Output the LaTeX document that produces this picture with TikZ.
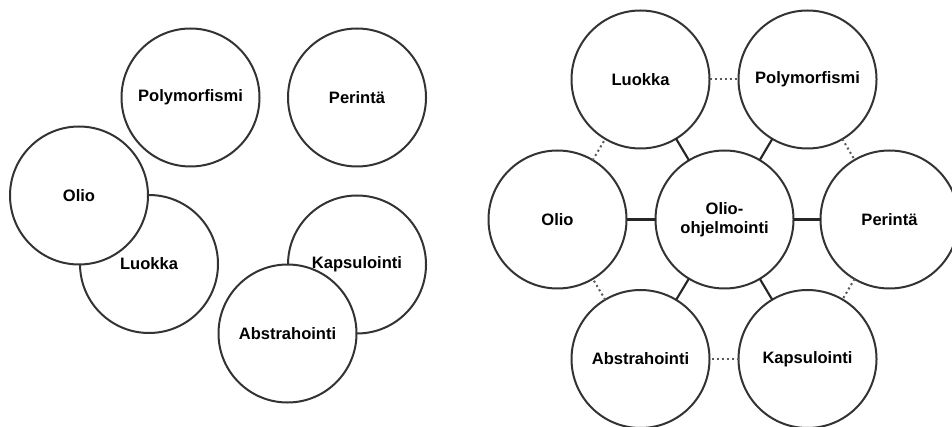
\documentclass[tikz,border=0pt]{standalone}
\usepackage{fontspec}
\setmainfont{Liberation Sans}
\begin{document}
\begin{tikzpicture}[x=0.75pt,y=-0.75pt,
  txt/.style={font=\bfseries\fontsize{12.4}{14.6}\selectfont,align=center},
  bub/.style={circle,draw=black!80,line width=1.5pt,fill=white,minimum size=103.5pt,inner sep=0pt,outer sep=0pt,txt},
  lbl/.style={inner sep=0pt,txt},
  link/.style={draw=black!85,line width=1.6pt},
  dots/.style={draw=black!65,line width=1.5pt,dash pattern=on 1.5pt off 2.25pt}]
\clip (0,0) rectangle (952,427);
% ---------- left panel ----------
\node[bub] (lpoly) at (190.5,97.5) {Polymorfismi};
\node[bub] (lper)  at (357,97.5) {Perintä};
\node[bub] (lluo)  at (149,264) {Luokka};
\node[bub] (lolio) at (79,195.5) {Olio};
\node[bub] (lkap)  at (357,264.5) {};
\node[bub] (labs)  at (287.5,333.5) {Abstrahointi};
\node[lbl] (lkapt) at (lkap) {Kapsulointi};
% ---------- right panel ----------
\node[bub] (c)    at (724.5,219.5) {Olio-\\ohjelmointi};
\node[bub] (olio) at (557.5,219.5) {Olio};
\node[bub] (per)  at (889.5,219.5) {Perintä};
\node[bub] (luo)  at (640.5,79.5) {Luokka};
\node[bub] (poly) at (807.5,79.5) {Polymorfismi};
\node[bub] (abs)  at (640.5,359) {Abstrahointi};
\node[bub] (kap)  at (807.5,359) {Kapsulointi};
\foreach \n in {olio,per,luo,poly,abs,kap} \draw[link] (c) -- (\n);
\draw[dots] (luo) -- (poly);
\draw[dots] (poly) -- (per);
\draw[dots] (per) -- (kap);
\draw[dots] (kap) -- (abs);
\draw[dots] (abs) -- (olio);
\draw[dots] (olio) -- (luo);
\end{tikzpicture}
\end{document}
